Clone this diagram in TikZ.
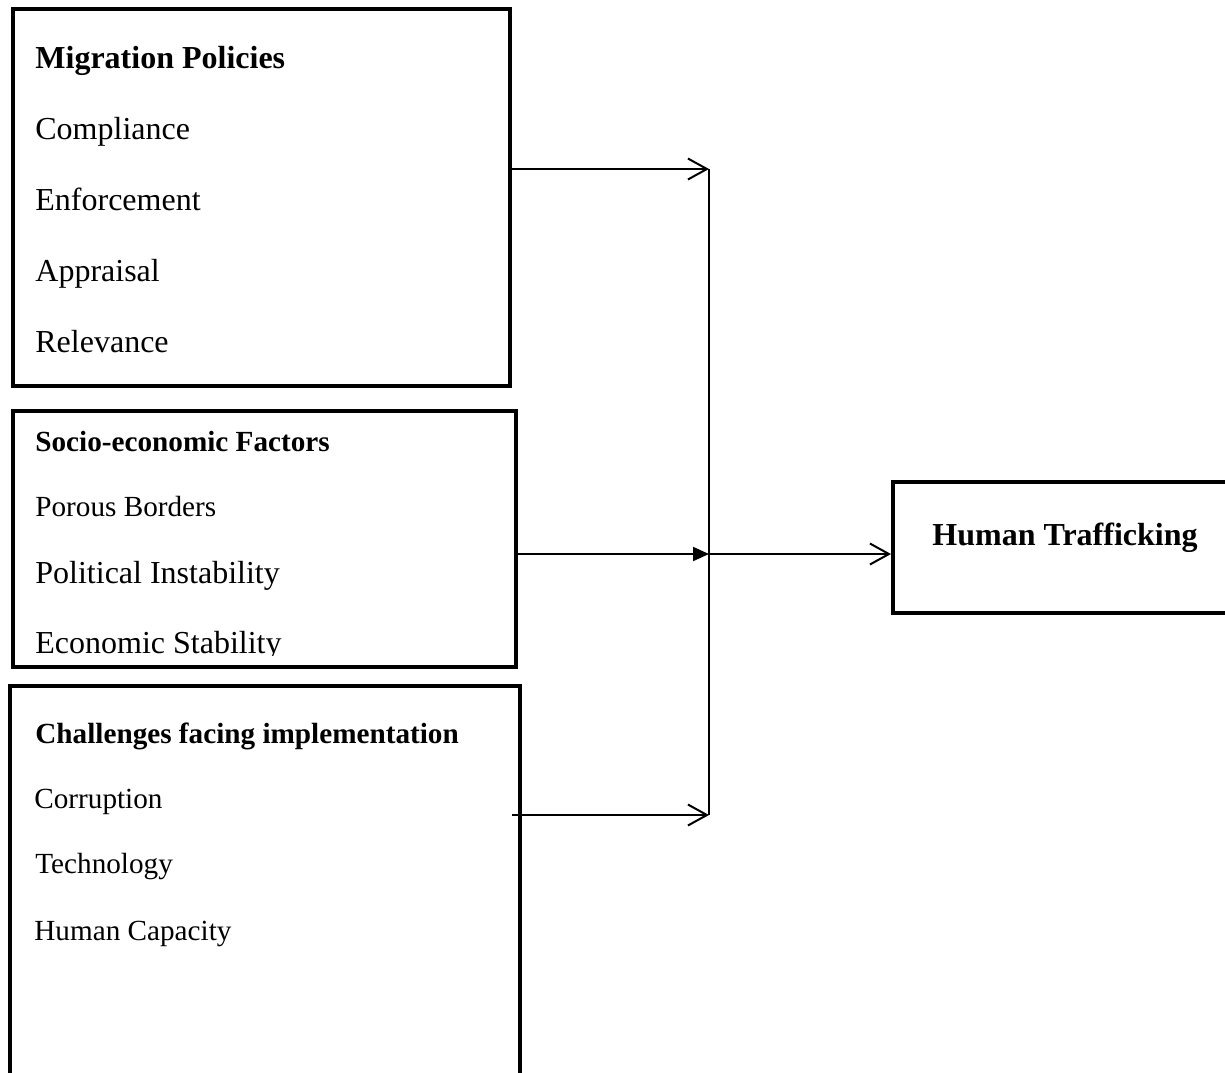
\documentclass[tikz,border=0pt]{standalone}
\usepackage{fontspec}
\setmainfont{Liberation Serif}
\usetikzlibrary{arrows.meta}
\begin{document}
\begin{tikzpicture}[x=0.5pt,y=-0.5pt,
  box/.style={draw,line width=2pt,rectangle,inner sep=0pt},
  big/.style={anchor=base west,inner sep=0pt,font=\fontsize{16}{19}\selectfont},
  bigb/.style={big,font=\fontsize{16}{19}\selectfont\bfseries},
  small/.style={anchor=base west,inner sep=0pt,font=\fontsize{14.6}{17}\selectfont},
  smallb/.style={small,font=\fontsize{14.6}{17}\selectfont\bfseries},
  conn/.style={line width=1pt},
  openarrow/.style={conn,-{Straight Barb[length=9.5pt,width=10.5pt,line width=1pt]}},
  fillarrow/.style={conn,-{Triangle[length=8pt,width=7pt]}}]
\useasboundingbox (0,0) rectangle (1225,1072);
\clip (0,0) rectangle (1225,1072);
% boxes
\node[box,minimum width=248.5pt,minimum height=188.5pt] (b1) at (261.5,197.5) {};
\node[box,minimum width=251.5pt,minimum height=128pt] (b2) at (264.5,539) {};
\node[box,minimum width=255pt,minimum height=207pt] (b3) at (265,893) {};
\node[box,minimum width=183.5pt,minimum height=65.5pt] (b4) at (1076.5,547.5) {};
% box 1 text
\node[bigb] (t11) at (35,68) {Migration Policies};
\node[big] (t12) at (35,139) {Compliance};
\node[big] (t13) at (35,210) {Enforcement};
\node[big] (t14) at (35,281) {Appraisal};
\node[big] (t15) at (35,352) {Relevance};
% box 2 text
\node[smallb] (t21) at (35,451) {Socio-economic Factors};
\node[small] (t22) at (35,516) {Porous Borders};
\node[big] (t23) at (35,583) {Political Instability};
\begin{scope}
\clip (13,411) rectangle (516,655);
\node[big] (t24) at (35,653) {Economic Stability};
\end{scope}
% box 3 text
\node[smallb] (t31) at (35,743) {Challenges facing implementation};
\node[small] (t32) at (34,808) {Corruption};
\node[small] (t33) at (35,873) {Technology};
\node[small] (t34) at (34,940) {Human Capacity};
% box 4 text
\node[bigb] (t41) at (932,545) {Human Trafficking};
% connectors
\coordinate (j1) at (709,169);
\coordinate (j2) at (709,554);
\coordinate (j3) at (709,815);
\coordinate (s3) at (512,815);
\draw[conn] (j1) -- (j3);
\draw[openarrow] (b1.east |- j1) -- (j1);
\draw[fillarrow] (b2.east |- j2) -- (j2);
\draw[openarrow] (s3) -- (j3);
\draw[openarrow] (j2) -- (b4.west |- j2);
\end{tikzpicture}
\end{document}
